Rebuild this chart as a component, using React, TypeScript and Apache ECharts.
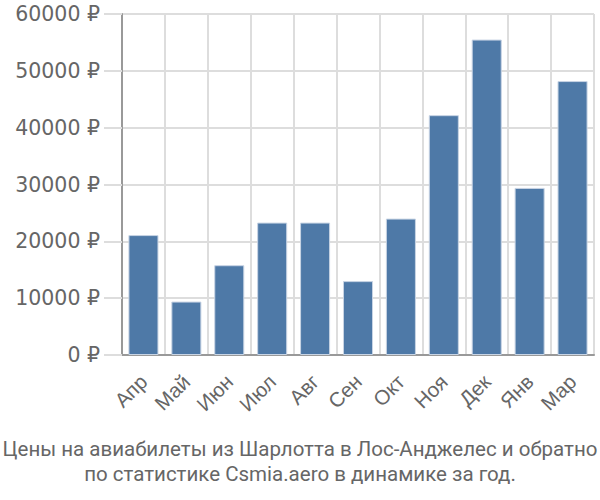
import React, { useEffect, useRef } from "react";
import * as echarts from "echarts";

const categories = ["Апр", "Май", "Июн", "Июл", "Авг", "Сен", "Окт", "Ноя", "Дек", "Янв", "Мар"];
const prices = [21100, 9400, 15800, 23300, 23300, 13000, 24000, 42200, 55500, 29400, 48200];
const yTicks = { min: 0, max: 60000, interval: 10000 };
const titleLines = [
  "Цены на авиабилеты из Шарлотта в Лос-Анджелес и обратно",
  "по статистике Csmia.aero в динамике за год.",
];

export default function App() {
  const ref = useRef<HTMLDivElement>(null);
  useEffect(() => {
    const chart = echarts.init(ref.current!, null, { renderer: "svg" });
    chart.setOption({
      animation: false,
      textStyle: { fontFamily: "Roboto" },
      title: {
        text: titleLines.join("\n"),
        left: "center",
        top: 431,
        textStyle: { fontFamily: "Roboto", fontSize: 20.5, fontWeight: "normal", color: "#666", lineHeight: 25 },
      },
      grid: { left: 122, right: 6, top: 14, bottom: 145 },
      xAxis: {
        type: "category",
        data: categories,
        boundaryGap: true,
        axisLine: { lineStyle: { color: "#999", width: 2 } },
        axisTick: { length: 20, lineStyle: { color: "#ddd", width: 2 } },
        splitLine: { show: true, lineStyle: { color: "#ddd", width: 2 } },
        axisLabel: { rotate: 45, fontSize: 20.5, fontFamily: "Liberation Sans", color: "#666", margin: 23, interval: 0 },
      },
      yAxis: {
        type: "value",
        ...yTicks,
        axisLine: { show: true, lineStyle: { color: "#999", width: 2 } },
        axisTick: { show: true, length: 18, lineStyle: { color: "#ddd", width: 2 } },
        splitLine: { show: true, lineStyle: { color: "#ddd", width: 2 } },
        axisLabel: { fontSize: 20.5, fontFamily: "DejaVu Sans", color: "#666", margin: 22, formatter: (v: number) => `${v} ₽` },
      },
      series: [
        {
          type: "bar",
          data: prices,
          barCategoryGap: "30%",
          itemStyle: { color: "#4e79a7", borderColor: "#c8d4e4", borderWidth: 1 },
        },
      ],
    });
    return () => chart.dispose();
  }, []);
  return <div ref={ref} style={{ position: "absolute", left: 0, top: 0, width: 600, height: 500 }} />;
}
